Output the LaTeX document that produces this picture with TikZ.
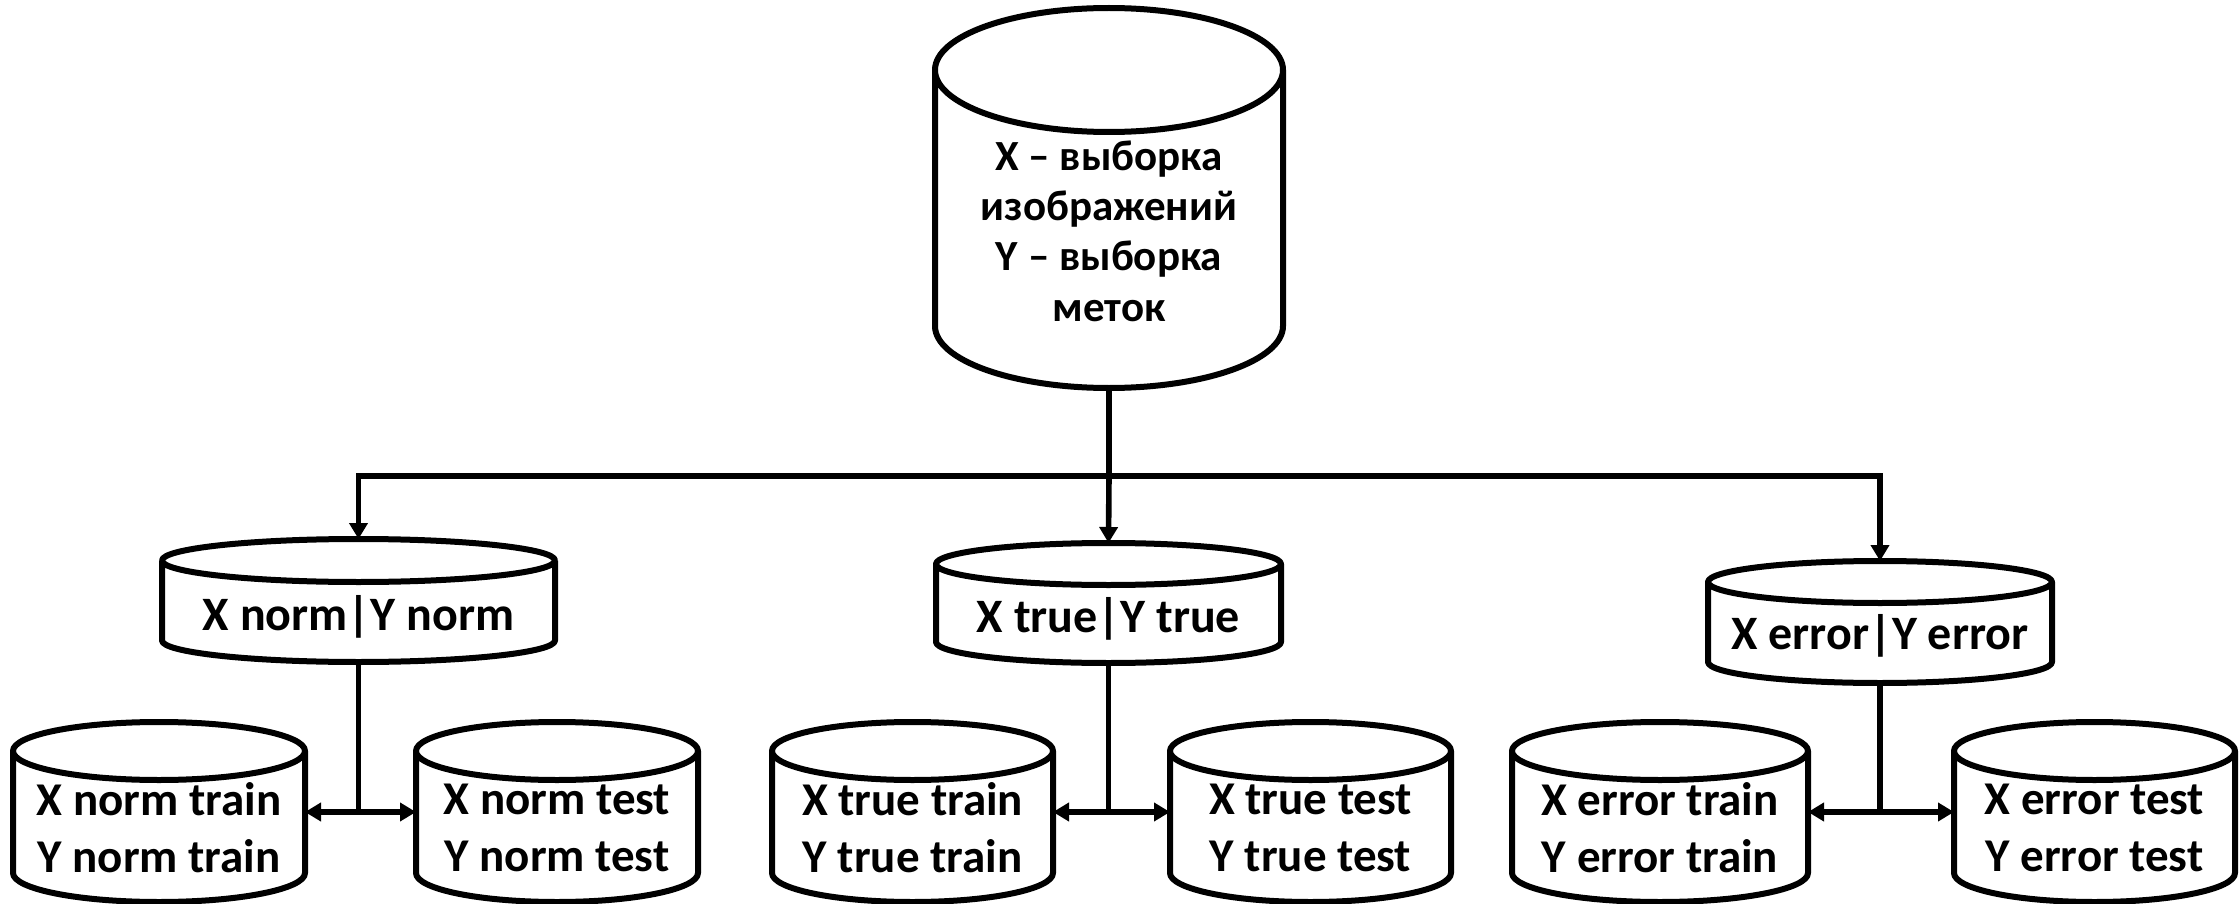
\documentclass[tikz,border=0pt]{standalone}
\usepackage{fontspec}
\setmainfont{Carlito}
\usetikzlibrary{arrows.meta,calc}
\tikzset{
  canbox/.style={draw=none, inner sep=0pt, outer sep=0pt},
  canline/.style={line width=3pt, line join=round},
  wire/.style={line width=2.8pt, line join=miter},
  conn/.style={wire, -{Triangle[length=8pt,width=9pt]}},
  toptxt/.style={align=center, font=\bfseries\fontsize{21.5}{25.2}\selectfont, inner sep=0pt},
  midtxt/.style={align=center, font=\bfseries\fontsize{24}{28}\selectfont, inner sep=0pt},
  bottxt/.style={align=center, font=\bfseries\fontsize{23.5}{28.5}\selectfont, inner sep=0pt},
}
\newcommand\drawcan[2]{%
  \draw[canline] let \p1=(#1.north west), \p2=(#1.south east),
      \n1={(\x2-\x1)/2}, \n2={#2} in
    (\x1,\y1-\n2) -- (\x1,\y2+\n2)
    arc[start angle=180,end angle=360,x radius=\n1,y radius=\n2]
    -- (\x2,\y1-\n2)
    (\x1+\n1,\y1-\n2) ellipse[x radius=\n1,y radius=\n2];}
\begin{document}
\begin{tikzpicture}[x=0.5pt,y=-0.5pt]
\useasboundingbox (0,0) rectangle (2240,904);
% top cylinder
\node[canbox, minimum width=174pt, minimum height=190pt] (src) at (1109,198) {};
\drawcan{src}{31pt}
\node[toptxt] (srcT) at (1109,231) {X – выборка\\изображений\\Y – выборка\\меток};
% middle cylinders
\node[canbox, minimum width=196.5pt, minimum height=61.5pt] (L) at (358.5,600.5) {};
\node[canbox, minimum width=172.5pt, minimum height=60pt] (M) at (1108.5,603) {};
\node[canbox, minimum width=172pt, minimum height=61pt] (R) at (1880,622) {};
\drawcan{L}{10.75pt}
\drawcan{M}{10.5pt}
\drawcan{R}{10.5pt}
\node[midtxt] (LT) at (358.5,617) {X norm|Y norm};
\node[midtxt] (MT) at (1108.5,619) {X true|Y true};
\node[midtxt] (RT) at (1880,636) {X error|Y error};
% bottom cylinders
\node[canbox, minimum width=146pt, minimum height=90pt] (A) at (159,812) {};
\node[canbox, minimum width=141pt, minimum height=90pt] (B) at (557,812) {};
\node[canbox, minimum width=140.5pt, minimum height=90pt] (C) at (912.5,812) {};
\node[canbox, minimum width=140.5pt, minimum height=90pt] (D) at (1310.5,812) {};
\node[canbox, minimum width=148pt, minimum height=90pt] (E) at (1660,812) {};
\node[canbox, minimum width=140.5pt, minimum height=90pt] (F) at (2094.5,812) {};
\drawcan{A}{14.5pt}
\drawcan{B}{14.5pt}
\drawcan{C}{14.5pt}
\drawcan{D}{14.5pt}
\drawcan{E}{14.5pt}
\drawcan{F}{14.5pt}
\node[bottxt] (AT) at (159,828) {X norm train\\Y norm train};
\node[bottxt] (BT) at (557,828) {X norm test\\Y norm test};
\node[bottxt] (CT) at (912.5,828) {X true train\\Y true train};
\node[bottxt] (DT) at (1310.5,828) {X true test\\Y true test};
\node[bottxt] (ET) at (1660,828) {X error train\\Y error train};
\node[bottxt] (FT) at (2094.5,828) {X error test\\Y error test};
% connectors
\coordinate (hub) at (1109,476);
\draw[wire] (src.south) -- (hub);
\draw[conn] (hub) -| (L.north);
\draw[conn] (hub) -- (M.north);
\draw[conn] (hub) -| (R.north);
\coordinate (lj) at (L.south |- A.east);
\coordinate (mj) at (M.south |- C.east);
\coordinate (rj) at (R.south |- E.east);
\draw[wire] (L.south) -- (lj);
\draw[wire] (M.south) -- (mj);
\draw[wire] (R.south) -- (rj);
\draw[conn] (lj) -- (A.east);
\draw[conn] (lj) -- (B.west);
\draw[conn] (mj) -- (C.east);
\draw[conn] (mj) -- (D.west);
\draw[conn] (rj) -- (E.east);
\draw[conn] (rj) -- (F.west);
\end{tikzpicture}
\end{document}
